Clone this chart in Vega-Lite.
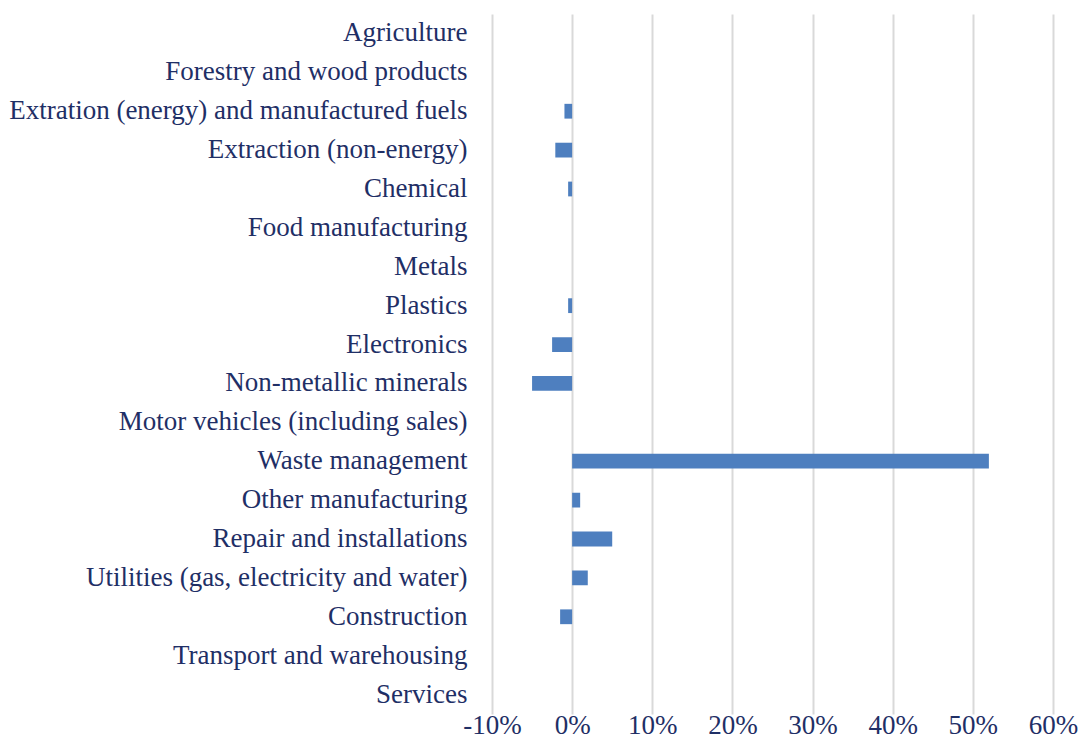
{
  "$schema": "https://vega.github.io/schema/vega-lite/v6.json",
  "width": 561,
  "height": 700,
  "padding": {"left": 8, "top": 14, "right": 20, "bottom": 5},
  "background": "white",
  "config": {
    "view": {"stroke": null},
    "font": "Liberation Serif"
  },
  "data": {
    "values": [
      {"sector": "Agriculture", "value": 0},
      {"sector": "Forestry and wood products", "value": 0},
      {"sector": "Extration (energy) and manufactured fuels", "value": -0.0096},
      {"sector": "Extraction (non-energy)", "value": -0.021},
      {"sector": "Chemical", "value": -0.005},
      {"sector": "Food manufacturing", "value": 0},
      {"sector": "Metals", "value": 0},
      {"sector": "Plastics", "value": -0.005},
      {"sector": "Electronics", "value": -0.025},
      {"sector": "Non-metallic minerals", "value": -0.05},
      {"sector": "Motor vehicles (including sales)", "value": 0},
      {"sector": "Waste management", "value": 0.52},
      {"sector": "Other manufacturing", "value": 0.01},
      {"sector": "Repair and installations", "value": 0.05},
      {"sector": "Utilities (gas, electricity and water)", "value": 0.0195},
      {"sector": "Construction", "value": -0.015},
      {"sector": "Transport and warehousing", "value": 0},
      {"sector": "Services", "value": 0}
    ]
  },
  "mark": {"type": "bar", "color": "#4E7FBF"},
  "encoding": {
    "y": {
      "field": "sector",
      "type": "nominal",
      "sort": null,
      "scale": {"paddingInner": 0.62, "paddingOuter": 0.31},
      "axis": {
        "title": null,
        "ticks": false,
        "domain": false,
        "grid": false,
        "labelPadding": 25,
        "labelFontSize": 27,
        "labelColor": "#1F2F66",
        "labelLimit": 700,
        "labelFont": "Liberation Serif"
      }
    },
    "x": {
      "field": "value",
      "type": "quantitative",
      "scale": {"domain": [-0.1, 0.6], "nice": false, "zero": false},
      "axis": {
        "title": null,
        "format": ".0%",
        "labelExpr": "replace(datum.label, '−', '-')",
        "values": [-0.1, 0, 0.1, 0.2, 0.3, 0.4, 0.5, 0.6],
        "ticks": false,
        "domain": false,
        "grid": true,
        "gridColor": "#D9D9D9",
        "gridWidth": 2,
        "labelFlush": false,
        "labelOverlap": false,
        "labelPadding": -2,
        "labelFontSize": 27,
        "labelColor": "#1F2F66",
        "labelFont": "Liberation Serif"
      }
    }
  }
}
